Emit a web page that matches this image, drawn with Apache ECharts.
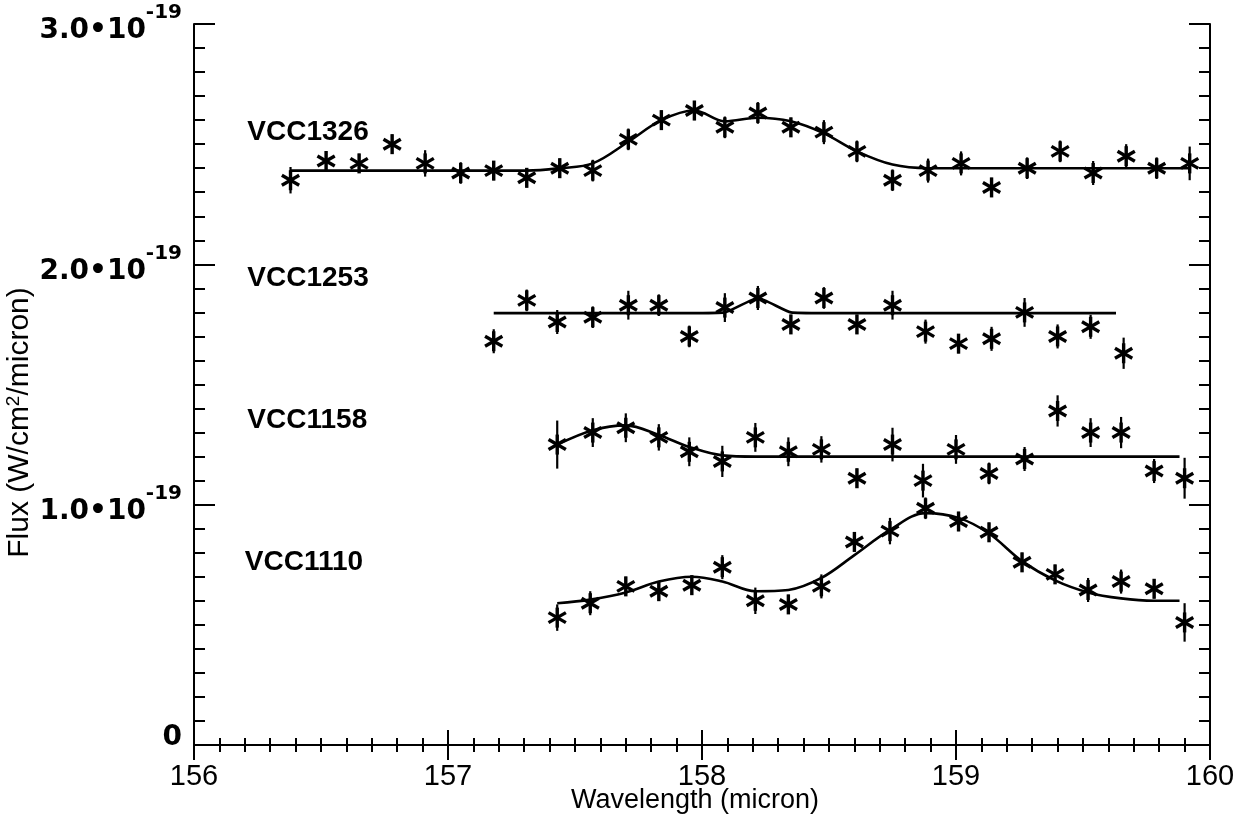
<!DOCTYPE html>
<html lang="en">
<head>
    <meta charset="UTF-8">
    <title>VCC spectra</title>
    <script src="https://cdn.jsdelivr.net/npm/echarts@6/dist/echarts.min.js"></script>
    <style>
        html, body { margin: 0; padding: 0; background: #fff; }
        #main { width: 1240px; height: 820px; }
    </style>
</head>
<body>
<div id="main"></div>
<script>
    // fluxes in units of 1e-19 W/cm2/micron
    var wl1326 = [156.38, 156.52, 156.65, 156.78, 156.91, 157.05, 157.18, 157.31, 157.44, 157.57, 157.71, 157.84, 157.97, 158.09,
        158.22, 158.35, 158.48, 158.61, 158.75, 158.89, 159.02, 159.14, 159.28, 159.41, 159.54, 159.67, 159.79, 159.92];
    var flux1326 = [2.35, 2.43, 2.42, 2.50, 2.42, 2.38, 2.39, 2.36, 2.40, 2.39, 2.52, 2.60, 2.64, 2.57,
        2.63, 2.57, 2.55, 2.47, 2.35, 2.39, 2.42, 2.32, 2.40, 2.47, 2.38, 2.45, 2.40, 2.42];
    var err1326 = [0.055, 0.04, 0.04, 0.04, 0.055, 0.045, 0.04, 0.04, 0.04, 0.045, 0.045, 0.04, 0.04, 0.045,
        0.045, 0.04, 0.05, 0.045, 0.045, 0.05, 0.05, 0.04, 0.045, 0.045, 0.05, 0.05, 0.045, 0.07];
    var fitWl1326 = [156.38, 157.18, 157.31, 157.44, 157.57, 157.71, 157.84, 157.97, 158.09, 158.22, 158.35, 158.48,
        158.61, 158.75, 158.89, 159.02, 159.92];
    var fit1326 = [2.39, 2.39, 2.39, 2.40, 2.42, 2.51, 2.60, 2.64, 2.595, 2.61, 2.595, 2.545,
        2.47, 2.415, 2.40, 2.40, 2.40];

    var wl1253 = [157.18, 157.31, 157.43, 157.57, 157.71, 157.83, 157.95, 158.09, 158.22, 158.35, 158.48, 158.61, 158.75,
        158.88, 159.01, 159.14, 159.27, 159.40, 159.53, 159.66];
    var flux1253 = [1.68, 1.85, 1.76, 1.78, 1.83, 1.83, 1.70, 1.82, 1.86, 1.75, 1.86, 1.75, 1.83,
        1.72, 1.67, 1.69, 1.80, 1.70, 1.74, 1.63];
    var err1253 = [0.05, 0.045, 0.05, 0.045, 0.06, 0.045, 0.045, 0.06, 0.05, 0.04, 0.045, 0.04, 0.06,
        0.05, 0.04, 0.05, 0.06, 0.05, 0.05, 0.065];
    var fitWl1253 = [157.18, 157.95, 158.09, 158.22, 158.35, 158.48, 159.63];
    var fit1253 = [1.797, 1.797, 1.80, 1.86, 1.80, 1.797, 1.797];

    var wl1158 = [157.43, 157.57, 157.70, 157.83, 157.95, 158.08, 158.21, 158.34, 158.47, 158.61, 158.75, 158.87, 159.00,
        159.13, 159.27, 159.40, 159.53, 159.65, 159.78, 159.90];
    var flux1158 = [1.25, 1.30, 1.32, 1.28, 1.22, 1.18, 1.28, 1.22, 1.23, 1.11, 1.25, 1.10, 1.23,
        1.13, 1.19, 1.39, 1.30, 1.30, 1.14, 1.11];
    var err1158 = [0.10, 0.06, 0.06, 0.055, 0.06, 0.065, 0.06, 0.06, 0.055, 0.04, 0.07, 0.07, 0.06,
        0.045, 0.05, 0.065, 0.06, 0.065, 0.05, 0.085];
    var fitWl1158 = [157.43, 157.57, 157.70, 157.83, 157.95, 158.08, 158.21, 158.34, 159.88];
    var fit1158 = [1.25, 1.31, 1.33, 1.29, 1.24, 1.205, 1.20, 1.20, 1.20];

    var wl1110 = [157.43, 157.56, 157.70, 157.83, 157.96, 158.08, 158.21, 158.34, 158.47, 158.60, 158.74, 158.88, 159.01,
        159.13, 159.26, 159.39, 159.52, 159.65, 159.78, 159.90];
    var flux1110 = [0.53, 0.59, 0.66, 0.64, 0.665, 0.74, 0.60, 0.585, 0.66, 0.845, 0.89, 0.985, 0.93,
        0.885, 0.76, 0.71, 0.645, 0.68, 0.65, 0.51];
    var err1110 = [0.055, 0.05, 0.04, 0.04, 0.04, 0.05, 0.055, 0.04, 0.05, 0.04, 0.055, 0.045, 0.04,
        0.04, 0.04, 0.04, 0.05, 0.05, 0.04, 0.08];
    var fitWl1110 = [157.43, 157.56, 157.70, 157.83, 157.96, 158.08, 158.21, 158.34, 158.47, 158.60, 158.74, 158.88,
        159.01, 159.13, 159.26, 159.39, 159.52, 159.65, 159.78, 159.88];
    var fit1110 = [0.59, 0.605, 0.635, 0.68, 0.70, 0.68, 0.64, 0.645, 0.695, 0.79, 0.895, 0.965,
        0.945, 0.88, 0.765, 0.685, 0.635, 0.61, 0.60, 0.60];

    var names = ['VCC1326', 'VCC1253', 'VCC1158', 'VCC1110'];
    var nameX = [156.21, 156.21, 156.21, 156.20];
    var nameY = [2.55, 1.94, 1.35, 0.76];

    function zip() {
        var cols = arguments, out = [];
        for (var i = 0; i < cols[0].length; i++) {
            var row = [];
            for (var j = 0; j < cols.length; j++) row.push(cols[j][i]);
            out.push(row);
        }
        return out;
    }

    // asterisk with vertical error bar
    function renderStar(params, api) {
        var x = api.value(0), y = api.value(1), e = api.value(2);
        var c = api.coord([x, y]);
        var lo = api.coord([x, y - e]);
        var hi = api.coord([x, y + e]);
        var r = 10, dx = r * 0.866, dy = r * 0.5;
        var st = { stroke: '#000', lineWidth: 3.4 };
        return {
            type: 'group',
            children: [
                { type: 'line', shape: { x1: c[0], y1: hi[1], x2: c[0], y2: lo[1] }, style: { stroke: '#000', lineWidth: 2.2 } },
                { type: 'line', shape: { x1: c[0], y1: c[1] - r, x2: c[0], y2: c[1] + r }, style: st },
                { type: 'line', shape: { x1: c[0] - dx, y1: c[1] - dy, x2: c[0] + dx, y2: c[1] + dy }, style: st },
                { type: 'line', shape: { x1: c[0] - dx, y1: c[1] + dy, x2: c[0] + dx, y2: c[1] - dy }, style: st }
            ]
        };
    }

    function pts(wl, fl, er) {
        return { type: 'custom', renderItem: renderStar, data: zip(wl, fl, er), z: 3 };
    }
    function fit(wl, fl, sm) {
        return {
            type: 'line', data: zip(wl, fl), showSymbol: false, smooth: sm,
            lineStyle: { color: '#000', width: 2.6 }, z: 2
        };
    }

    var xBase = {
        type: 'value', min: 156, max: 160, interval: 1,
        axisLine: { lineStyle: { color: '#000', width: 2 } },
        axisTick: { inside: true, length: 15, lineStyle: { color: '#000', width: 2 } },
        minorTick: { show: true, splitNumber: 10, length: 7, lineStyle: { color: '#000', width: 2 } },
        splitLine: { show: false }
    };
    var yBase = {
        type: 'value', min: 0, max: 3, interval: 1,
        axisLine: { lineStyle: { color: '#000', width: 2 } },
        axisTick: { inside: true, length: 21, lineStyle: { color: '#000', width: 2 } },
        minorTick: { show: true, splitNumber: 10, length: 11, lineStyle: { color: '#000', width: 2 } },
        splitLine: { show: false }
    };
    var yFont = { fontFamily: 'DejaVu Sans', fontWeight: 'bold', color: '#000' };

    var chart = echarts.init(document.getElementById('main'));
    chart.setOption({
        animation: false,
        backgroundColor: '#fff',
        grid: { left: 194, right: 30, top: 24, bottom: 75, containLabel: false, outerBoundsMode: 'none' },
        // x title placed by hand, the axis name gets pushed below the labels
        graphic: [{
            type: 'text', x: 695, y: 801,
            style: {
                text: 'Wavelength (micron)', fill: '#000', font: '27px "Liberation Sans"',
                align: 'center', verticalAlign: 'middle'
            }
        }],
        xAxis: [
            Object.assign({}, xBase, {
                position: 'bottom',
                axisLabel: { margin: 17, fontFamily: 'Liberation Sans', fontSize: 29, color: '#000' }
            }),
            Object.assign({}, xBase, { position: 'top', axisLabel: { show: false } })
        ],
        yAxis: [
            Object.assign({}, yBase, {
                position: 'left',
                name: '{n|Flux (W/cm}{s|2}{n|/micron)}', nameLocation: 'middle', nameGap: 158, nameRotate: 90,
                nameMoveOverlap: false,
                nameTextStyle: {
                    padding: [0, 76, 0, 0],
                    rich: {
                        n: { fontFamily: 'Liberation Sans', fontSize: 30, color: '#000', lineHeight: 32 },
                        s: { fontFamily: 'Liberation Sans', fontSize: 19, color: '#000', verticalAlign: 'top' }
                    }
                },
                axisLabel: {
                    margin: 12,
                    formatter: function (v) {
                        if (v === 0) return '{p|\u200b}{z|0}';
                        return '{p|\u200b}{b|' + v.toFixed(1) + '\u202210}{s|-19}';
                    },
                    rich: {
                        p: Object.assign({ fontSize: 10, lineHeight: 42 }, yFont),
                        b: Object.assign({ fontSize: 28, lineHeight: 28, verticalAlign: 'bottom' }, yFont),
                        s: Object.assign({ fontSize: 20, lineHeight: 26, verticalAlign: 'top' }, yFont),
                        z: Object.assign({ fontSize: 28, lineHeight: 24, verticalAlign: 'top' }, yFont)
                    }
                }
            }),
            Object.assign({}, yBase, { position: 'right', axisLabel: { show: false } })
        ],
        series: [
            fit(fitWl1326, fit1326, 0.35),
            fit(fitWl1253, fit1253, 0.15),
            fit(fitWl1158, fit1158, 0.35),
            fit(fitWl1110, fit1110, 0.35),
            pts(wl1326, flux1326, err1326),
            pts(wl1253, flux1253, err1253),
            pts(wl1158, flux1158, err1158),
            pts(wl1110, flux1110, err1110),
            {
                type: 'custom', data: zip(nameX, nameY), z: 4,
                renderItem: function (params, api) {
                    var c = api.coord([api.value(0), api.value(1)]);
                    return {
                        type: 'text', x: c[0], y: c[1],
                        style: {
                            text: names[params.dataIndex], fill: '#000',
                            font: 'bold 28px "Liberation Sans"', verticalAlign: 'middle', align: 'left'
                        }
                    };
                }
            }
        ]
    });
</script>
</body>
</html>
